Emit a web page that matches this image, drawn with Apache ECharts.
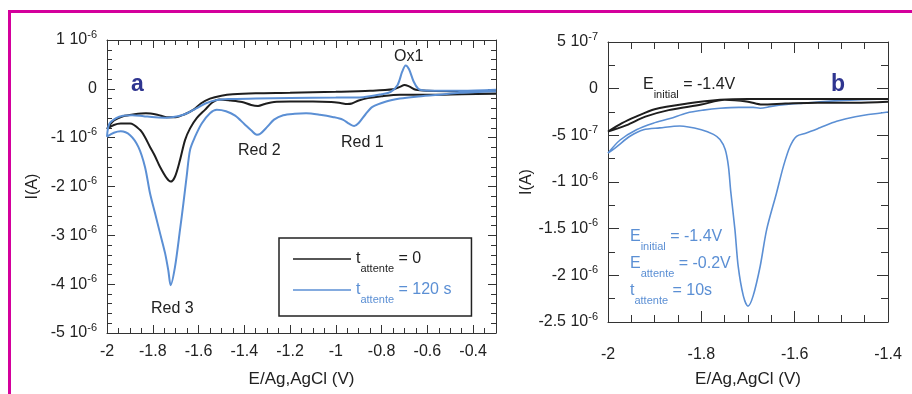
<!DOCTYPE html>
<html>
<head>
<meta charset="utf-8">
<script src="https://cdn.jsdelivr.net/npm/echarts@6/dist/echarts.min.js"></script>
<style>
html,body{margin:0;padding:0;background:#fff;}
#chart{width:912px;height:394px;}
</style>
</head>
<body>
<div id="chart"></div>
<script>
// ---------- DATA (E in V, I in units of 1e-6 A) ----------
// Panel a, t_attente = 0 (black): cathodic branch then return branch
const aBlackE = [-0.30,-0.45,-0.60,-0.72,-0.80,-0.86,-0.90,-0.93,-0.95,-0.98,-1.02,-1.10,-1.20,-1.27,-1.31,-1.34,-1.37,-1.41,-1.46,-1.51,-1.54,-1.572,-1.608,-1.637,-1.659,-1.681,-1.703,-1.722,-1.739,-1.768,-1.79,-1.812,-1.835,-1.856,-1.899,-1.94,-1.97,-2.00,
                 -1.97,-1.93,-1.88,-1.83,-1.78,-1.74,-1.70,-1.66,-1.62,-1.59,-1.55,-1.50,-1.45,-1.35,-1.20,-1.00,-0.85,-0.75,-0.72,-0.70,-0.68,-0.65,-0.60,-0.45,-0.30];
const aBlackI = [-0.10,-0.11,-0.12,-0.12,-0.15,-0.19,-0.24,-0.30,-0.31,-0.29,-0.27,-0.26,-0.26,-0.27,-0.31,-0.35,-0.33,-0.27,-0.24,-0.22,-0.28,-0.43,-0.60,-0.81,-1.05,-1.46,-1.80,-1.90,-1.83,-1.60,-1.38,-1.19,-0.98,-0.84,-0.71,-0.71,-0.74,-0.82,
                 -0.65,-0.56,-0.52,-0.50,-0.53,-0.58,-0.58,-0.52,-0.42,-0.30,-0.20,-0.14,-0.11,-0.09,-0.08,-0.06,-0.04,-0.01,0.04,0.08,0.05,-0.02,-0.04,-0.05,-0.05];
// Panel a, t_attente = 120 s (blue)
const aBlueE = [-0.30,-0.40,-0.46,-0.55,-0.65,-0.72,-0.78,-0.84,-0.87,-0.90,-0.92,-0.94,-0.97,-1.01,-1.07,-1.13,-1.18,-1.23,-1.27,-1.30,-1.33,-1.345,-1.37,-1.40,-1.44,-1.48,-1.52,-1.55,-1.586,-1.615,-1.637,-1.652,-1.666,-1.681,-1.703,-1.722,-1.732,-1.746,-1.768,-1.79,-1.812,-1.834,-1.863,-1.899,-1.94,-1.97,-2.00,
                -1.99,-1.96,-1.93,-1.89,-1.84,-1.79,-1.74,-1.69,-1.65,-1.61,-1.57,-1.52,-1.47,-1.35,-1.20,-1.00,-0.88,-0.80,-0.76,-0.73,-0.71,-0.695,-0.68,-0.66,-0.64,-0.62,-0.55,-0.45,-0.30];
const aBlueI = [-0.05,-0.07,-0.08,-0.12,-0.16,-0.20,-0.26,-0.37,-0.52,-0.70,-0.76,-0.72,-0.63,-0.58,-0.53,-0.50,-0.51,-0.54,-0.63,-0.78,-0.92,-0.94,-0.85,-0.72,-0.55,-0.46,-0.43,-0.50,-0.71,-0.98,-1.25,-1.80,-2.34,-2.89,-3.65,-4.02,-3.72,-3.37,-2.96,-2.55,-2.14,-1.60,-1.19,-0.95,-0.87,-0.90,-0.98,
                -0.72,-0.60,-0.55,-0.54,-0.56,-0.58,-0.59,-0.56,-0.50,-0.40,-0.30,-0.23,-0.21,-0.20,-0.19,-0.18,-0.17,-0.11,-0.06,0.08,0.35,0.48,0.40,0.15,0.00,-0.03,-0.04,-0.04,-0.02];
// Panel b, black
const bBlackE = [-1.40,-1.47,-1.55,-1.62,-1.67,-1.70,-1.75,-1.80,-1.87,-1.92,-1.96,-2.00,
                 -1.97,-1.94,-1.90,-1.83,-1.76,-1.70,-1.60,-1.50,-1.40];
const bBlackI = [-0.14,-0.15,-0.15,-0.16,-0.17,-0.14,-0.12,-0.17,-0.23,-0.30,-0.39,-0.46,
                 -0.37,-0.30,-0.22,-0.16,-0.12,-0.11,-0.11,-0.11,-0.11];
// Panel b, blue
const bBlueE = [-1.40,-1.47,-1.51,-1.546,-1.575,-1.596,-1.61,-1.624,-1.639,-1.66,-1.674,-1.689,-1.70,-1.71,-1.721,-1.728,-1.737,-1.742,-1.749,-1.76,-1.774,-1.80,-1.846,-1.889,-1.924,-1.953,-1.981,-2.00,
                -1.974,-1.939,-1.903,-1.867,-1.831,-1.796,-1.76,-1.72,-1.689,-1.674,-1.65,-1.617,-1.582,-1.546,-1.47,-1.40];
const bBlueI = [-0.25,-0.30,-0.35,-0.42,-0.475,-0.51,-0.62,-0.83,-1.12,-1.51,-1.905,-2.22,-2.33,-2.22,-1.905,-1.51,-1.10,-0.83,-0.65,-0.545,-0.49,-0.44,-0.40,-0.42,-0.44,-0.51,-0.62,-0.69,
                -0.55,-0.44,-0.37,-0.32,-0.26,-0.23,-0.21,-0.20,-0.20,-0.21,-0.19,-0.17,-0.155,-0.14,-0.12,-0.11];

const seriesNames = ['t_attente = 0', 't_attente = 120 s'];
const xTitle = 'E/Ag,AgCl (V)';
const yTitle = 'I(A)';

// ---------- STYLE ----------
const FONT = "'Liberation Sans', Arial, sans-serif";
const BLACK = '#1e1e1e';
const BLUE = '#5b8fd4';
const NAVY = '#2f3590';
const PINK = '#d4009c';
const AX = '#333';

const pairs = (xs, ys) => xs.map((x, i) => [x, ys[i]]);

const supRich = {
  m: {fontSize: 16, lineHeight: 22, fontFamily: FONT, color: '#222'},
  s: {fontSize: 11, lineHeight: 11, fontFamily: FONT, color: '#222', verticalAlign: 'top'}
};

function fmtA(v) {
  if (Math.abs(v) < 1e-9) return '{m|0}';
  return '{m|' + Math.round(v) + ' 10}{s|-6}';
}
function fmtB(v) {
  if (Math.abs(v) < 1e-9) return '{m|0}';
  if (Math.abs(Math.abs(v) - 0.5) < 1e-9) return '{m|' + (v > 0 ? '5' : '-5') + ' 10}{s|-7}';
  return '{m|' + Number(v.toFixed(1)) + ' 10}{s|-6}';
}
function fmtX(v) {
  const r = Number(v.toFixed(2));
  if (Math.abs(r * 10 - Math.round(r * 10)) > 1e-6) return '';
  if (Math.abs(Math.round(r * 10)) % 2 !== 0) return '';
  return String(Number(r.toFixed(1)));
}

function xAxes(gi, min, max, margin, gap, len, mlen) {
  const base = {
    type: 'value', gridIndex: gi, min: min, max: max, interval: 0.2,
    axisLine: {show: true, onZero: false, lineStyle: {color: AX, width: 1}},
    axisTick: {show: true, inside: true, length: len, lineStyle: {color: AX}},
    minorTick: {show: true, splitNumber: 4, length: mlen, lineStyle: {color: AX}},
    splitLine: {show: false}, minorSplitLine: {show: false}
  };
  return [
    Object.assign({}, base, {
      position: 'bottom',
      axisLabel: {show: true, margin: margin, fontSize: 16, fontFamily: FONT, color: '#222', formatter: fmtX},
      name: xTitle, nameLocation: 'middle', nameGap: gap,
      nameTextStyle: {fontSize: 17, fontFamily: FONT, color: '#222'}
    }),
    Object.assign({}, base, {position: 'top', axisLabel: {show: false}})
  ];
}
function yAxes(gi, min, max, interval, split, fmt, gap, len, mlen) {
  const base = {
    type: 'value', gridIndex: gi, min: min, max: max, interval: interval,
    axisLine: {show: true, onZero: false, lineStyle: {color: AX, width: 1}},
    axisTick: {show: true, inside: true, length: len, lineStyle: {color: AX}},
    minorTick: {show: true, splitNumber: split, length: mlen, lineStyle: {color: AX}},
    splitLine: {show: false}, minorSplitLine: {show: false}
  };
  return [
    Object.assign({}, base, {
      position: 'left',
      axisLabel: {show: true, margin: 10, formatter: fmt, rich: supRich},
      name: yTitle, nameLocation: 'middle', nameGap: gap, nameRotate: 90,
      nameTextStyle: {fontSize: 16, fontFamily: FONT, color: '#222'}
    }),
    Object.assign({}, base, {position: 'right', axisLabel: {show: false}})
  ];
}

const subRich = (color) => ({
  m: {fontSize: 16, lineHeight: 30, fontFamily: FONT, fill: color},
  s: {fontSize: 11, lineHeight: 11, fontFamily: FONT, fill: color, verticalAlign: 'bottom'}
});

function txt(x, y, text, opts) {
  return {
    type: 'text', left: x, top: y, silent: true,
    style: Object.assign({text: text, font: '16px ' + FONT, fill: '#222'}, opts || {})
  };
}

const lineStyle = (c, w) => ({color: c, width: w});

const option = {
  animation: false,
  backgroundColor: '#fff',
  grid: [
    {left: 107, top: 40, width: 389, height: 293},
    {left: 608, top: 42, width: 280, height: 280}
  ],
  xAxis: [].concat(
    xAxes(0, -2, -0.3, 11, 38, 8, 5),
    xAxes(1, -2, -1.4, 25, 49, 11, 7)
  ),
  yAxis: [].concat(
    yAxes(0, -5, 1, 1, 5, fmtA, 66, 8, 5),
    yAxes(1, -2.5, 0.5, 0.5, 2, fmtB, 70, 11, 7)
  ),
  legend: {
    show: true, orient: 'vertical', left: 279, top: 238,
    data: [
      {name: seriesNames[0], textStyle: {color: BLACK}},
      {name: seriesNames[1], textStyle: {color: BLUE}}
    ],
    icon: 'rect', itemWidth: 58, itemHeight: 1.5, itemGap: 8,
    padding: [13, 20, 11, 14],
    borderColor: '#222', borderWidth: 1.5, borderRadius: 0,
    backgroundColor: '#fff',
    selectedMode: false,
    formatter: function (name) {
      return name === seriesNames[0] ? '{m|t}{s|attente}{m| = 0}' : '{m|t}{s|attente}{m| = 120 s}';
    },
    textStyle: {
      fontSize: 16, fontFamily: FONT,
      rich: {
        m: {fontSize: 16, lineHeight: 30, fontFamily: FONT},
        s: {fontSize: 11, lineHeight: 11, fontFamily: FONT, verticalAlign: 'bottom'}
      }
    }
  },
  series: [
    {name: seriesNames[0], type: 'line', xAxisIndex: 0, yAxisIndex: 0, data: pairs(aBlackE, aBlackI),
     showSymbol: false, smooth: 0.3, color: BLACK, lineStyle: lineStyle(BLACK, 2), z: 3},
    {name: seriesNames[1], type: 'line', xAxisIndex: 0, yAxisIndex: 0, data: pairs(aBlueE, aBlueI),
     showSymbol: false, smooth: 0.3, color: BLUE, lineStyle: lineStyle(BLUE, 2), z: 4},
    {name: 'b0', type: 'line', xAxisIndex: 2, yAxisIndex: 2, data: pairs(bBlackE, bBlackI),
     showSymbol: false, smooth: 0.3, color: BLACK, lineStyle: lineStyle(BLACK, 2), z: 4},
    {name: 'b1', type: 'line', xAxisIndex: 2, yAxisIndex: 2, data: pairs(bBlueE, bBlueI),
     showSymbol: false, smooth: 0.3, color: BLUE, lineStyle: lineStyle(BLUE, 1.6), z: 3}
  ],
  graphic: [
    {type: 'line', silent: true, shape: {x1: 9.5, y1: 11.5, x2: 912, y2: 11.5}, style: {stroke: PINK, lineWidth: 3}},
    {type: 'line', silent: true, shape: {x1: 9.5, y1: 10, x2: 9.5, y2: 394}, style: {stroke: PINK, lineWidth: 3}},
    txt(131, 73, 'a', {font: 'bold 23px ' + FONT, fill: NAVY}),
    txt(831, 73, 'b', {font: 'bold 23px ' + FONT, fill: NAVY}),
    txt(394, 49, 'Ox1'),
    txt(238, 143, 'Red 2'),
    txt(341, 135, 'Red 1'),
    txt(151, 301, 'Red 3'),
    {type: 'text', left: 643, top: 77, silent: true,
     style: {text: '{m|E}{s|initial}{m| = -1.4V}', rich: subRich('#222')}},
    {type: 'text', left: 630, top: 229, silent: true,
     style: {text: '{m|E}{s|initial}{m| = -1.4V}', rich: subRich(BLUE)}},
    {type: 'text', left: 630, top: 256, silent: true,
     style: {text: '{m|E}{s|attente}{m| = -0.2V}', rich: subRich(BLUE)}},
    {type: 'text', left: 630, top: 283, silent: true,
     style: {text: '{m|t}{s|attente}{m| = 10s}', rich: subRich(BLUE)}}
  ]
};

const chart = echarts.init(document.getElementById('chart'), null, {renderer: 'canvas'});
chart.setOption(option);
</script>
</body>
</html>
